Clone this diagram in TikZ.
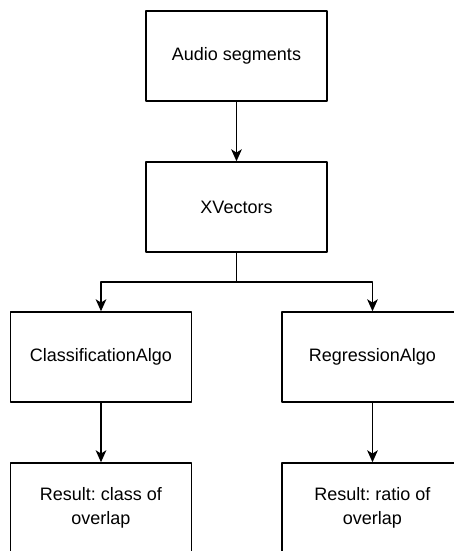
\documentclass[tikz,border=0pt]{standalone}
\usepackage{fontspec}
\setmainfont{Liberation Sans}
\usetikzlibrary{arrows.meta}
\frenchspacing
\tikzset{
  box/.style={draw, rectangle, minimum width=135.75pt, minimum height=67.5pt,
    align=center, inner sep=2pt, font=\fontsize{13.5}{18}\selectfont},
  flow/.style={-{Stealth[length=9pt,width=8pt,inset=2.5pt]}}
}
\begin{document}
\begin{tikzpicture}[x=0.75pt, y=-0.75pt, line width=1.1pt, line join=round]
 \def\W{454} \def\H{551} % picture size in px
 \useasboundingbox (0,0) rectangle (\W,\H);
 \clip (0,0) rectangle (\W,\H);
 \node[box] (audio) at (236.5,56) {Audio segments};
 \node[box] (xvec) at (236.5,207) {XVectors};
 \node[box] (cls) at (101,357) {ClassificationAlgo};
 \node[box] (reg) at (372.5,357) {RegressionAlgo};
 \node[box] (rescls) at (101,508) {Result: class of\\overlap};
 \node[box] (resreg) at (372.5,508) {Result: ratio of\\overlap};
 \coordinate (split) at (236.5,282);
 \draw[flow] (audio) -- (xvec);
 \draw (xvec) -- (split);
 \draw[flow] (split) -| (cls);
 \draw[flow] (split) -| (reg);
 \draw[flow] (cls) -- (rescls);
 \draw[flow] (reg) -- (resreg);
\end{tikzpicture}
\end{document}
